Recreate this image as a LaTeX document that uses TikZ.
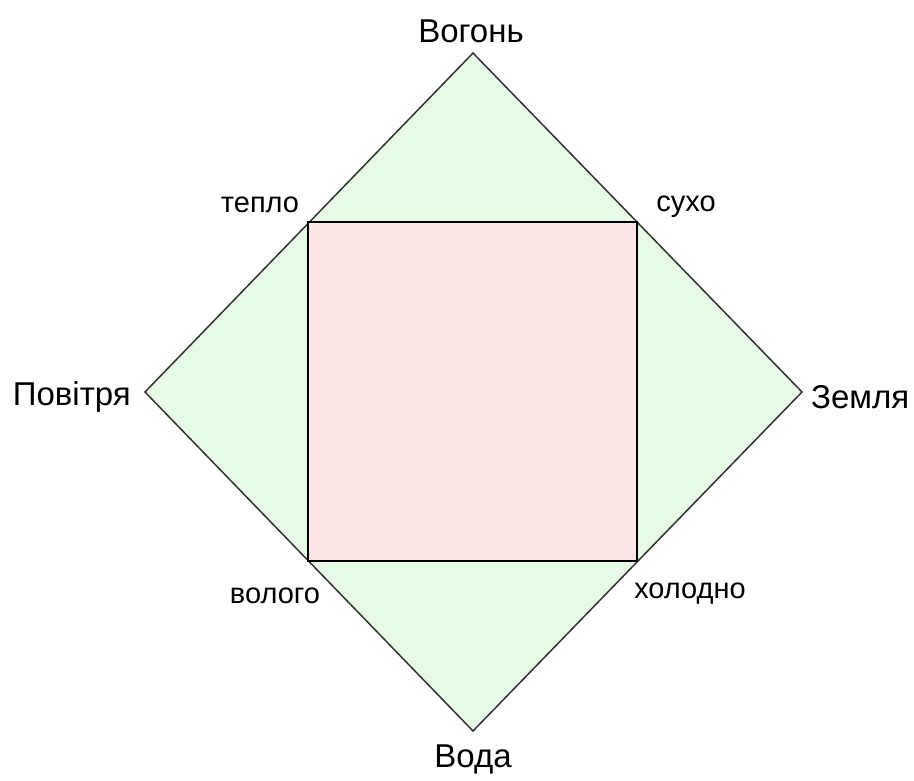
\documentclass[tikz,border=0pt]{standalone}
\usepackage{fontspec}
\setmainfont{Liberation Sans}
\definecolor{lgreen}{HTML}{E6FAE6}
\definecolor{lpink}{HTML}{FFE6E6}
\definecolor{edgegray}{HTML}{333333}
\begin{document}
\begin{tikzpicture}[x=1pt,y=-1pt,
  big/.style={font=\fontsize{33}{38}\selectfont, inner sep=0pt},
  small/.style={font=\fontsize{29}{34}\selectfont, inner sep=0pt}]
\useasboundingbox (0,0) rectangle (914,780);
\coordinate (T) at (473,53);
\coordinate (L) at (145,392);
\coordinate (R) at (802,392);
\coordinate (B) at (473,731);
\coordinate (s1) at (308,222);
\coordinate (s2) at (637,222);
\coordinate (s3) at (637,561);
\coordinate (s4) at (308,561);
\filldraw[fill=lgreen, draw=edgegray, line width=1.5pt, line join=miter] (T) -- (R) -- (B) -- (L) -- cycle;
\filldraw[fill=lpink, draw=black, line width=2pt] (s1) -- (s2) -- (s3) -- (s4) -- cycle;
\node[big] (fire) at (471,31) {Вогонь};
\node[big] (water) at (473,759) {Вода};
\node[big, anchor=east] (air) at (131,397) {Повітря};
\node[big, anchor=west] (earth) at (811,397) {Земля};
\node[small] (warm) at (260,205) {тепло};
\node[small] (dry) at (686,207) {сухо};
\node[small] (wet) at (275,596) {волого};
\node[small] (cold) at (690,594) {холодно};
\end{tikzpicture}
\end{document}
